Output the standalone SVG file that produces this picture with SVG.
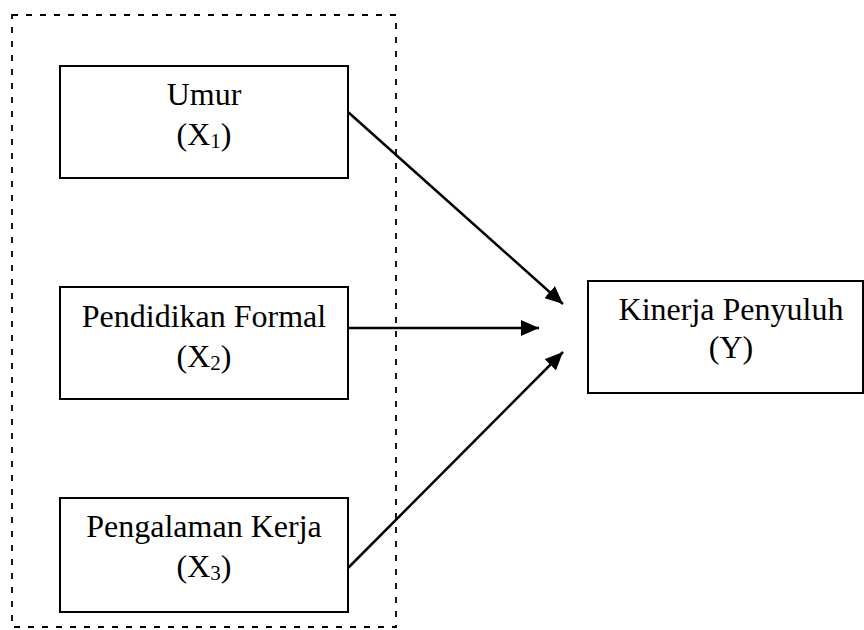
<svg xmlns="http://www.w3.org/2000/svg" width="864" height="630" viewBox="0 0 864 630">
<style>
.box{fill:#fff;stroke:#000;stroke-width:2}
.lbl{font-family:"Liberation Serif","Times New Roman",serif;font-size:32px;fill:#000;text-anchor:middle}
.sub{font-size:21px}
.conn{stroke:#000;stroke-width:2.5;fill:none}
</style>
<defs>
<marker id="ah" viewBox="0 0 18 16" refX="18" refY="8" markerWidth="18" markerHeight="16" orient="auto" markerUnits="userSpaceOnUse">
<path d="M0,0 L18,8 L0,16 Z" fill="#000"/>
</marker>
</defs>
<rect id="group" x="12" y="15" width="384" height="612" fill="none" stroke="#000" stroke-width="1.8" stroke-dasharray="6,8"/>
<g id="x1">
<rect class="box" x="60" y="66" width="288" height="112"/>
<text class="lbl" x="204" y="105">Umur</text>
<text class="lbl" x="204" y="145">(X<tspan class="sub" dy="3">1</tspan><tspan dy="-3">)</tspan></text>
</g>
<g id="x2">
<rect class="box" x="60" y="287" width="288" height="112"/>
<text class="lbl" x="204" y="327">Pendidikan Formal</text>
<text class="lbl" x="204" y="367">(X<tspan class="sub" dy="3">2</tspan><tspan dy="-3">)</tspan></text>
</g>
<g id="x3">
<rect class="box" x="60" y="498" width="288" height="114"/>
<text class="lbl" x="204" y="537">Pengalaman Kerja</text>
<text class="lbl" x="204" y="577">(X<tspan class="sub" dy="3">3</tspan><tspan dy="-3">)</tspan></text>
</g>
<g id="y">
<rect class="box" x="588" y="281" width="275" height="112"/>
<text class="lbl" x="731" y="320">Kinerja Penyuluh</text>
<text class="lbl" x="731" y="358">(Y)</text>
</g>
<g id="connectors">
<line class="conn" x1="348" y1="112" x2="563" y2="304" marker-end="url(#ah)"/>
<line class="conn" x1="348" y1="328" x2="539" y2="328" marker-end="url(#ah)"/>
<line class="conn" x1="348" y1="568" x2="563" y2="352" marker-end="url(#ah)"/>
</g>
</svg>
